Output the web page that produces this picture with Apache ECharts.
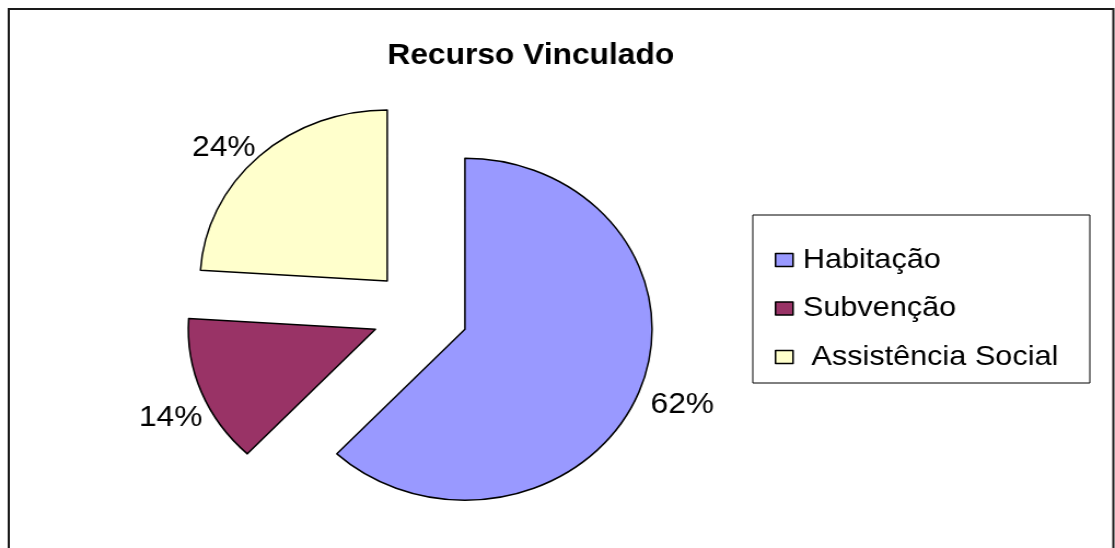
<!DOCTYPE html>
<html>
<head>
<meta charset="utf-8">
<script src="https://cdn.jsdelivr.net/npm/echarts@6/dist/echarts.min.js"></script>
<style>
  html, body { margin: 0; padding: 0; background: #fff; overflow: hidden; }
  /* the source picture is stretched sideways, so the chart is drawn narrower and widened */
  #main { width: 1019px; height: 548px; transform: scaleX(1.0942); transform-origin: 0 0; }
</style>
</head>
<body>
<div id="main"></div>
<script>
(function(){
    var categories = ['Habitação', 'Subvenção', 'Assistência Social'];
    var shares = [62, 14, 24];
    var colors = ['#9999FF', '#993366', '#FFFFCC'];
    // where each percent label sits (radial push, sideways pull)
    var labelLen = [34, 69, 12];
    var labelLen2 = [-11, -55, 5];

    var font = '"Liberation Sans", Arial, sans-serif';
    var myChart = echarts.init(document.getElementById('main'));

    var pieData = [];
    for (var i = 0; i < categories.length; i++) {
        pieData.push({
            name: categories[i],
            value: shares[i],
            selected: true,
            itemStyle: { color: colors[i] },
            labelLine: { show: false, length: labelLen[i], length2: labelLen2[i] }
        });
    }

    var option = {
        animation: false,
        backgroundColor: '#fff',
        title: {
            text: 'Recurso Vinculado',
            left: 354,
            top: 41,
            padding: 0,
            textStyle: {
                fontFamily: font,
                fontSize: 29,
                fontWeight: 'bold',
                color: '#000'
            }
        },
        graphic: [
            {   // chart frame, its bottom edge is off the picture
                type: 'rect',
                shape: { x: 8, y: 9, width: 1009.5, height: 600 },
                style: { fill: null, stroke: '#1a1a1a', lineWidth: 2 },
                silent: true
            },
            {   // legend box
                type: 'rect',
                shape: { x: 688, y: 215, width: 308, height: 168 },
                style: { fill: '#fff', stroke: '#000', lineWidth: 1 },
                z: -1,
                silent: true
            }
        ],
        legend: {
            orient: 'vertical',
            left: 708,
            top: 245,
            padding: 0,
            itemGap: 18.5,
            itemWidth: 16,
            itemHeight: 13,
            icon: 'rect',
            selectedMode: false,
            itemStyle: { borderColor: '#000', borderWidth: 1.5 },
            textStyle: {
                fontFamily: font,
                fontSize: 28,
                lineHeight: 30,
                color: '#000',
                padding: [0, 0, 0, 4]
            },
            formatter: function (name) {
                return name === 'Assistência Social' ? ' ' + name : name;
            },
            data: categories
        },
        series: [
            {
                type: 'pie',
                center: [384, 313],
                radius: 171,
                startAngle: 90,
                clockwise: true,
                selectedMode: 'multiple',
                selectedOffset: 44,
                avoidLabelOverlap: false,
                silent: true,
                percentPrecision: 0,
                emphasis: { disabled: true },
                itemStyle: { borderColor: '#000', borderWidth: 1.5 },
                label: {
                    show: true,
                    position: 'outside',
                    formatter: '{d}%',
                    fontFamily: font,
                    fontSize: 29,
                    color: '#000',
                    distanceToLabelLine: -10
                },
                labelLine: { show: false },
                data: pieData
            }
        ]
    };
    myChart.setOption(option);
})();
</script>
</body>
</html>
